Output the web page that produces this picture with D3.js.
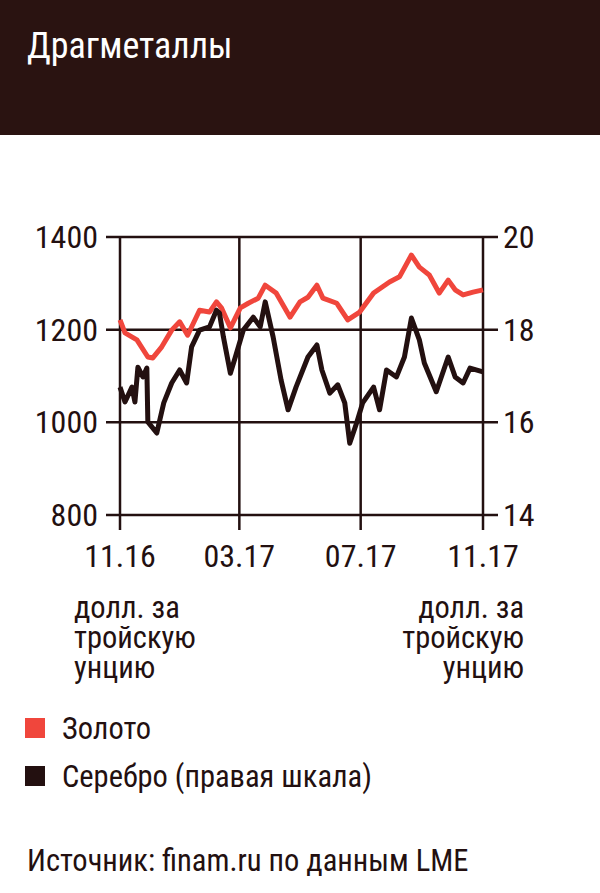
<!DOCTYPE html>
<html><head><meta charset="utf-8">
<script src="https://cdn.jsdelivr.net/npm/d3@7"></script>
<style>body{margin:0;background:#fff}svg{display:block}text{font-family:"Liberation Sans Narrow","Roboto Condensed","DejaVu Sans Condensed",sans-serif}</style>
</head><body><svg id="c" width="600" height="893"></svg>
<script>
// days from 01.11.2016
const goldDays = [0,5,17,28,33,42,52,60,68,80,90,97,102,111,121,129,139,146,157,171,181,189,198,204,218,229,241,255,271,281,293,301,311,321,330,337,345,355,365];
const goldValues = [1221,1193,1178,1141,1139,1163,1199,1217,1188,1242,1238,1260,1247,1204,1247,1257,1268,1296,1279,1227,1260,1270,1296,1268,1257,1221,1238,1279,1303,1314,1361,1335,1318,1279,1307,1286,1275,1281,1286];
const silverDays = [0,5,12,15,18,23,27,28,37,44,52,60,67,72,80,90,97,100,104,111,116,124,134,141,146,154,162,169,177,189,198,203,211,219,226,231,238,244,255,261,268,278,286,293,301,306,318,330,337,345,352,365];
const silverValues = [16.76,16.44,16.76,16.44,17.19,16.98,17.17,16.01,15.77,16.42,16.85,17.13,16.85,17.63,17.99,18.06,18.42,18.36,17.84,17.06,17.41,17.99,18.27,18.06,18.6,17.84,16.91,16.27,16.76,17.41,17.67,17.13,16.63,16.81,16.42,15.55,15.99,16.42,16.76,16.27,17.13,16.98,17.41,18.25,17.78,17.28,16.66,17.41,16.98,16.85,17.17,17.09];
const leftTicks = [800,1000,1200,1400];
const rightTicks = [14,16,18,20];
const xTickLabels = ["11.16","03.17","07.17","11.17"];

const svg = d3.select("#c");
const t0 = new Date(2016,10,1);
const day = d => d3.timeDay.offset(t0, d);
const x = d3.scaleTime().domain([t0, new Date(2017,10,1)]).range([120,483]);
const yL = d3.scaleLinear().domain([800,1400]).range([515,237]);
const yR = d3.scaleLinear().domain([14,20]).range([515,237]);
const dark = "#231010", red = "#f0463c";

svg.append("rect").attr("width",600).attr("height",135).attr("fill","#2a1311");
svg.append("text").attr("x",27).attr("y",58).attr("fill","#fff").attr("font-size",36).text("Драгметаллы");

// grid
svg.selectAll(".h").data(leftTicks).enter().append("line")
  .attr("x1",106).attr("x2",498).attr("y1",d=>yL(d)).attr("y2",d=>yL(d))
  .attr("stroke",dark).attr("stroke-width",2.5);
const xTicks = [0,4,8,12].map(m => d3.timeMonth.offset(t0,m));
svg.selectAll(".v").data(xTicks).enter().append("line")
  .attr("x1",d=>x(d)).attr("x2",d=>x(d)).attr("y1",237).attr("y2",530)
  .attr("stroke",dark).attr("stroke-width",2.5);

svg.selectAll(".lt").data(leftTicks).enter().append("text")
  .attr("x",98).attr("y",d=>yL(d)+11).attr("text-anchor","end").attr("font-size",32).attr("fill",dark).text(d=>d);
svg.selectAll(".rt").data(rightTicks).enter().append("text")
  .attr("x",503).attr("y",d=>yR(d)+11).attr("font-size",32).attr("fill",dark).text(d=>d);
svg.selectAll(".xt").data(xTicks).enter().append("text")
  .attr("x",d=>x(d)).attr("y",567).attr("text-anchor","middle").attr("font-size",32).attr("fill",dark)
  .text((d,i)=>xTickLabels[i]);

const line = (days, vals, y) => d3.line().x((d,i)=>x(day(days[i]))).y((d,i)=>y(vals[i]))(vals);
svg.append("path").attr("d",line(goldDays,goldValues,yL)).attr("fill","none").attr("stroke",red).attr("stroke-width",5).attr("stroke-linejoin","round");
svg.append("path").attr("d",line(silverDays,silverValues,yR)).attr("fill","none").attr("stroke",dark).attr("stroke-width",5).attr("stroke-linejoin","round");

const units = ["долл. за","тройскую","унцию"];
units.forEach((u,i)=>{
  svg.append("text").attr("x",74).attr("y",618+i*30).attr("font-size",30.5).attr("fill",dark).text(u);
  svg.append("text").attr("x",524).attr("y",618+i*30).attr("text-anchor","end").attr("font-size",30.5).attr("fill",dark).text(u);
});

const legend = [["Золото",red],["Серебро (правая шкала)",dark]];
legend.forEach((l,i)=>{
  svg.append("rect").attr("x",25).attr("y",718+i*48).attr("width",20).attr("height",20).attr("fill",l[1]);
  svg.append("text").attr("x",62).attr("y",739+i*48).attr("font-size",30.5).attr("fill",dark).text(l[0]);
});
svg.append("text").attr("x",27).attr("y",871).attr("font-size",30.5).attr("fill",dark).text("Источник: finam.ru по данным LME");
</script></body></html>
